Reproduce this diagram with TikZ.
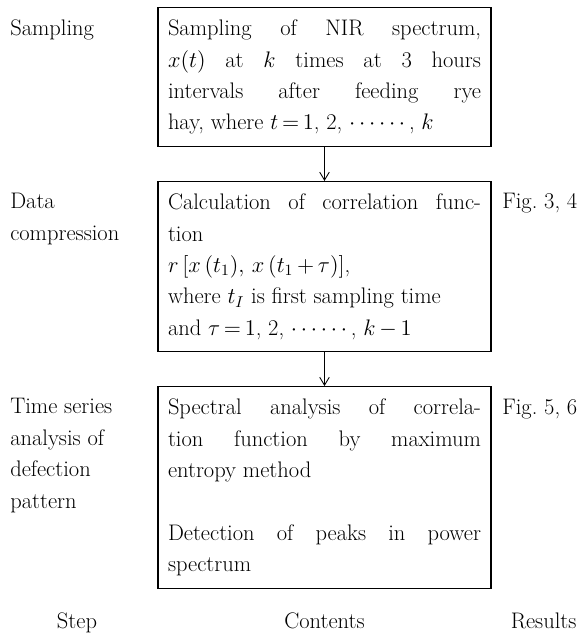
\RequirePackage{fix-cm}
\documentclass[tikz,border=0pt]{standalone}
\usepackage{amsmath}
\usetikzlibrary{positioning,arrows.meta}
\setlength{\parindent}{0pt}

\begin{document}
\begin{tikzpicture}[
	txt/.style={font=\fontsize{16}{22.3}\selectfont},
	stepbox/.style={txt, draw, line width=0.8pt, text width=7.825cm, inner xsep=0.25cm, inner ysep=0.31cm, align=justify},
	side/.style={txt, anchor=north west, inner sep=0pt, align=left},
	>={Straight Barb[length=2mm,width=2.4mm]}]
	\useasboundingbox (0,0) rectangle (14.575,-15.9);
	\coordinate (lft) at (0.25,0);
	\coordinate (rgt) at (12.55,0);
	\node[stepbox, anchor=north] (samp) at (8.1125,-0.175) {Sampling of NIR spectrum,\linebreak $x(t)$ at $k$ times at 3 hours\linebreak intervals after feeding rye\linebreak hay, where $t\,{=}\,1$, 2, $\cdots\cdots$, $k$};
	\node[stepbox, below=0.84cm of samp] (comp) {Calculation of correlation func-\linebreak tion\\ $r\,[x\,(t_1),\, x\,(t_1\,{+}\,\tau)]$,\\ where $t_I$ is first sampling time\\ and $\tau\,{=}\,1$, 2, $\cdots\cdots$, $k\,{-}\,1$};
	\node[stepbox, below=0.84cm of comp] (anal) {Spectral analysis of correla-\linebreak tion function by maximum\linebreak entropy method\\[22.3pt] Detection of peaks in power\linebreak spectrum};
	\draw[->, line width=0.6pt] (samp) -- (comp);
	\draw[->, line width=0.6pt] (comp) -- (anal);
	\node[side, yshift=-0.31cm] (sampstep) at (lft |- samp.north) {Sampling};
	\node[side, yshift=-0.31cm] (compstep) at (lft |- comp.north) {Data\\ compression};
	\node[side, yshift=-0.31cm] (analstep) at (lft |- anal.north) {Time series\\ analysis of\\ defection\\ pattern};
	\node[side, yshift=-0.31cm] (compfig) at (rgt |- comp.north) {Fig.~3, 4};
	\node[side, yshift=-0.31cm] (analfig) at (rgt |- anal.north) {Fig.~5, 6};
	\node[txt, anchor=base] (step) at (1.925,-15.7) {Step};
	\node[txt, anchor=base] (contents) at (anal.center |- step.base) {Contents};
	\node[txt, anchor=base] (results) at (13.59,-15.7) {Results};
\end{tikzpicture}
\end{document}
